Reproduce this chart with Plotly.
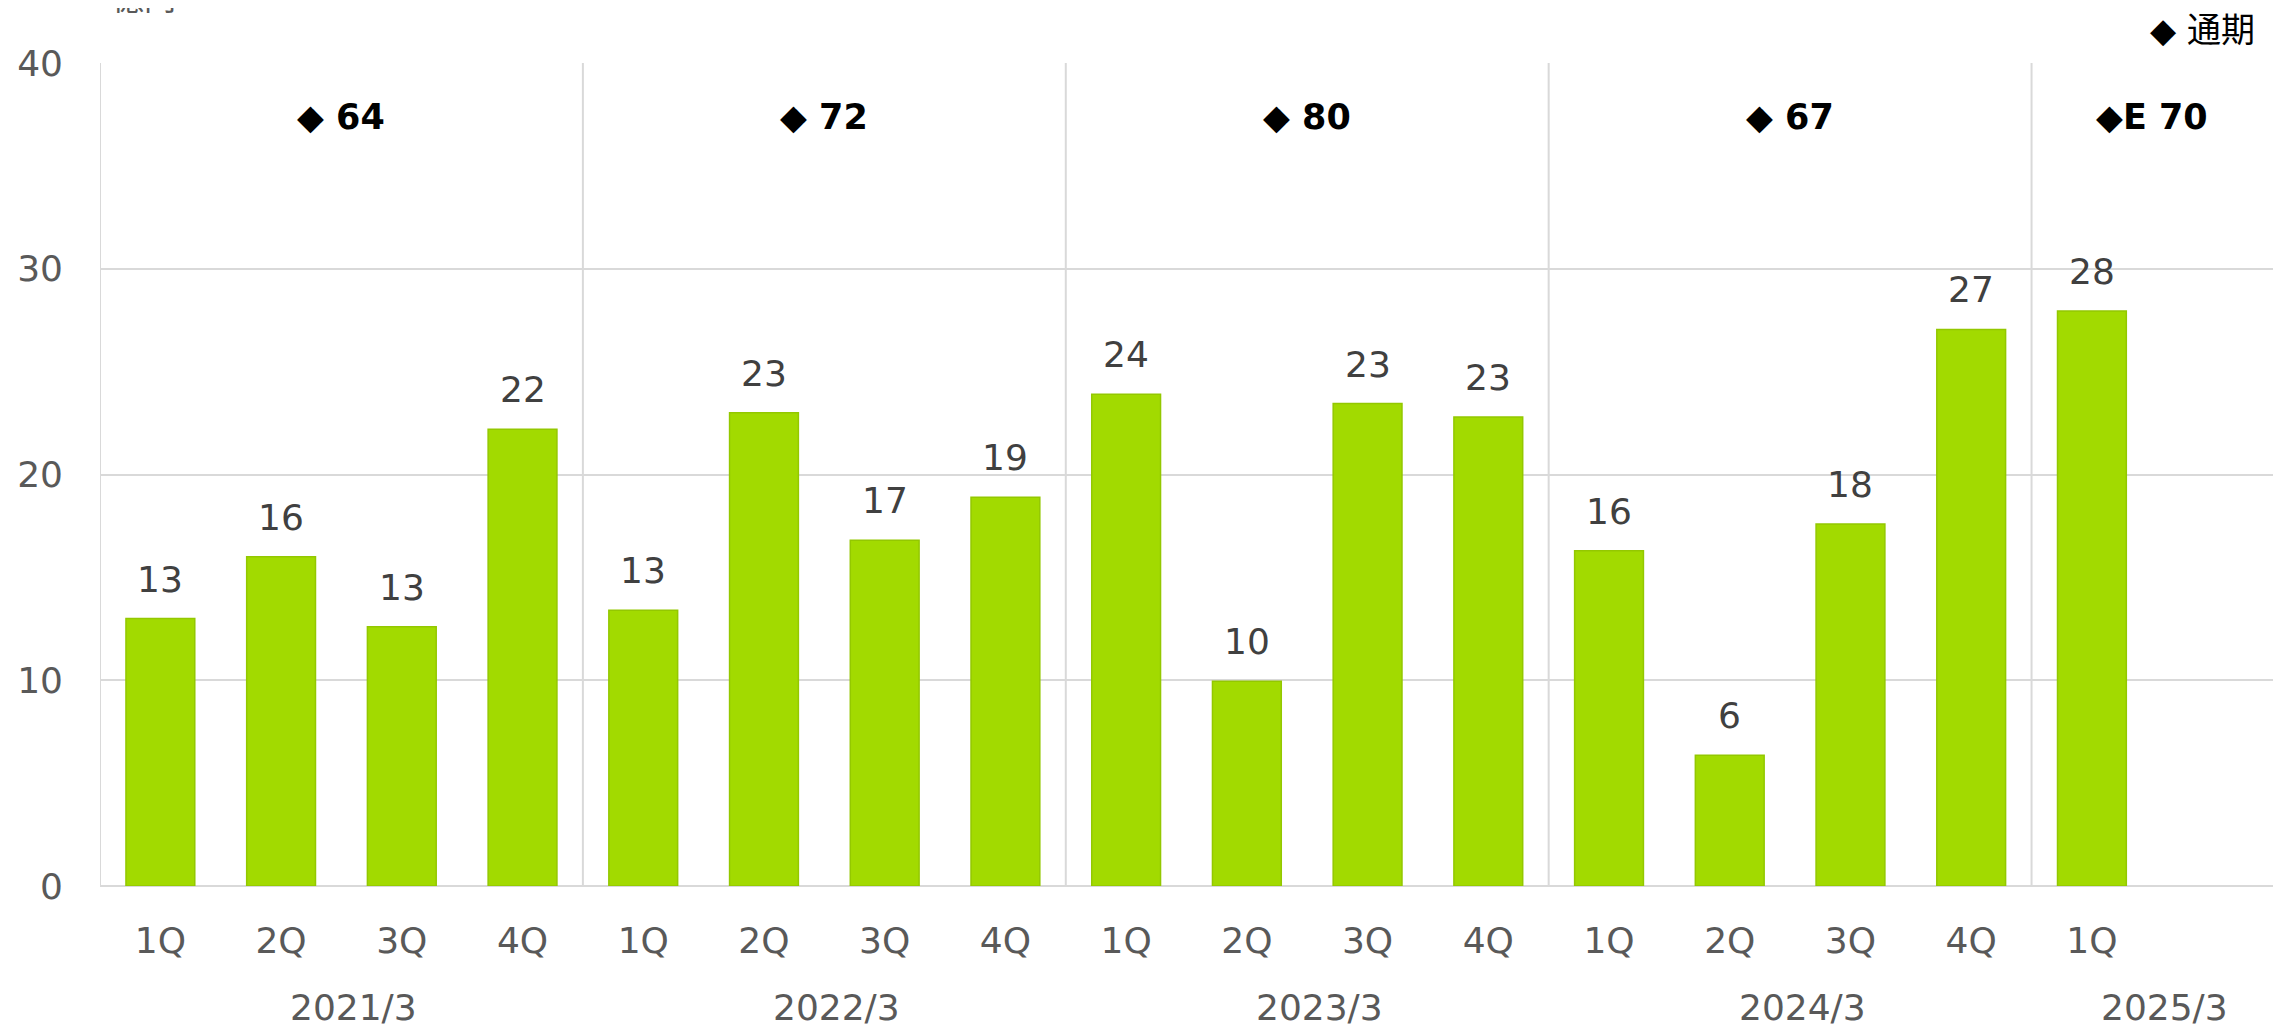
import plotly.graph_objects as go

# ---- data ----
quarters = ["1Q", "2Q", "3Q", "4Q",
            "1Q", "2Q", "3Q", "4Q",
            "1Q", "2Q", "3Q", "4Q",
            "1Q", "2Q", "3Q", "4Q",
            "1Q"]
values = [13.0, 16.0, 12.6, 22.2,
          13.4, 23.0, 16.8, 18.9,
          23.9, 9.95, 23.45, 22.8,
          16.3, 6.35, 17.6, 27.05,
          27.95]
years = ["2021/3", "2022/3", "2023/3", "2024/3", "2025/3"]
annual_labels = ["◆ 64", "◆ 72", "◆ 80", "◆ 67", "◆E 70"]
group_sizes = [4, 4, 4, 4, 2]  # slots per fiscal-year group (last has one empty slot)
legend_text = "◆ 通期"
unit_text = "億円"

FONT = "DejaVu Sans"
GRID = "#d9d9d9"

x_pos = list(range(len(values)))
n_slots = sum(group_sizes)

fig = go.Figure()
fig.add_trace(go.Bar(
    x=x_pos, y=values,
    width=0.57,
    marker=dict(color="#a2da00", line=dict(color="#93c800", width=1.5)),
    hoverinfo="skip",
))

annotations = []
# data labels
for xi, v in zip(x_pos, values):
    annotations.append(dict(
        x=xi, y=v, xref="x", yref="y", text=f"{round(v):d}",
        showarrow=False, yanchor="bottom", yshift=17,
        font=dict(family=FONT, size=36, color="#404040"),
    ))

# group separators, annual labels, year labels
shapes = []
start = 0
for gi, size in enumerate(group_sizes):
    shapes.append(dict(type="line", xref="x", yref="y",
                       x0=start - 0.5, x1=start - 0.5, y0=0, y1=40,
                       line=dict(color=GRID, width=2), layer="below"))
    center = start - 0.5 + size / 2
    annotations.append(dict(
        x=center, y=37.4, xref="x", yref="y", text=f"<b>{annual_labels[gi]}</b>",
        showarrow=False, yanchor="middle",
        font=dict(family=FONT, size=35, color="#000000"),
    ))
    annotations.append(dict(
        x=center + 0.1, y=0, xref="x", yref="paper", text=years[gi],
        showarrow=False, yanchor="middle", yshift=-121,
        font=dict(family=FONT, size=36, color="#595959"),
    ))
    start += size

annotations.append(dict(
    x=1, y=1, xref="paper", yref="paper", text=legend_text,
    showarrow=False, xanchor="right", yanchor="middle", xshift=-16, yshift=33,
    font=dict(family="DejaVu Sans, Noto Sans CJK JP", size=34, color="#000000"),
))
annotations.append(dict(
    x=0, y=1, xref="paper", yref="paper", text=unit_text,
    showarrow=False, xanchor="left", yanchor="bottom", xshift=10, yshift=42,
    font=dict(family="Noto Sans CJK JP", size=32, color="#595959"),
))

fig.update_layout(
    width=2269, height=1025,
    margin=dict(l=92, r=4, t=55, b=147),
    paper_bgcolor="white", plot_bgcolor="white",
    showlegend=False,
    shapes=shapes,
    annotations=annotations,
    xaxis=dict(
        range=[-0.5, n_slots - 0.5],
        tickmode="array", tickvals=x_pos, ticktext=quarters,
        showgrid=False, zeroline=False, showline=False,
        ticks="", ticklabelstandoff=30,
        tickfont=dict(family=FONT, size=36, color="#595959"),
    ),
    yaxis=dict(
        range=[0, 40], tickvals=[0, 10, 20, 30, 40],
        showgrid=True, gridcolor=GRID, gridwidth=2,
        zeroline=True, zerolinecolor=GRID, zerolinewidth=2,
        showline=False, ticks="", ticklabelstandoff=36,
        tickfont=dict(family=FONT, size=36, color="#595959"),
    ),
)

fig.write_html("out.html")
